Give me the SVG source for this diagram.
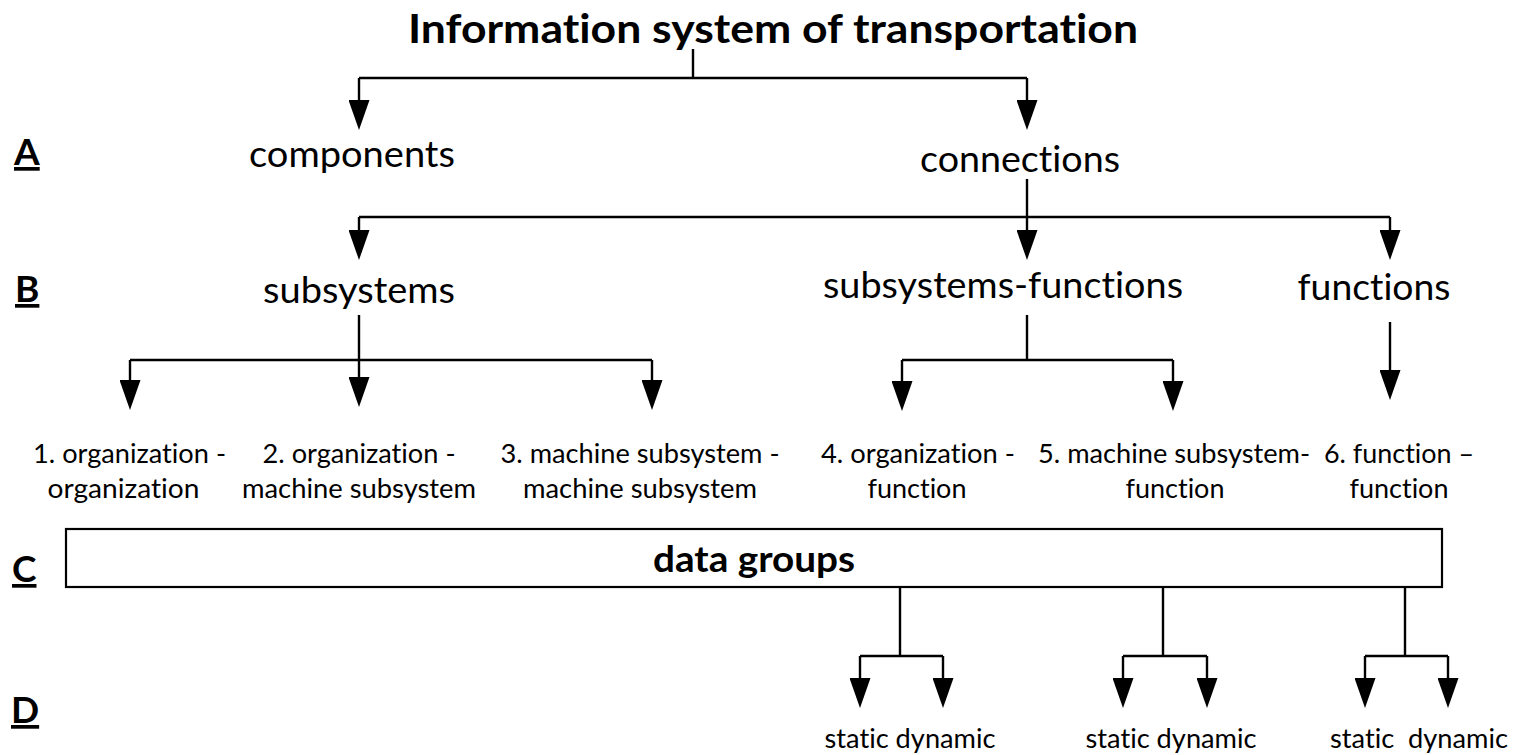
<svg xmlns="http://www.w3.org/2000/svg" width="1517" height="755" viewBox="0 0 1517 755">
<defs>
<marker id="ah" markerUnits="userSpaceOnUse" viewBox="0 0 30 21" markerWidth="30" markerHeight="21" refX="4" refY="10.5" orient="auto">
<path d="M0,0 L30,10.5 L0,21 Z" fill="#000"/>
</marker>
<style>
text{font-family:Lato,"Liberation Sans",Arial,sans-serif;fill:#000;white-space:pre;font-variant-ligatures:none;font-feature-settings:"liga" 0,"clig" 0,"dlig" 0}
.t{font-size:40px;font-weight:700;text-anchor:middle}
.m{font-size:36.5px;text-anchor:middle}
.s{font-size:26.5px;text-anchor:middle}
.r{font-size:37px;font-weight:700;text-decoration:underline}
.b{font-size:36.5px;font-weight:700;text-anchor:middle}
.c{fill:none;stroke:#000;stroke-width:2.4}
.a{fill:none;stroke:#000;stroke-width:2.4;marker-end:url(#ah)}
.box{fill:#fff;stroke:#000;stroke-width:2.2}
</style>
</defs>
<rect width="1517" height="755" fill="#fff"/>
<g id="connectors">
<path class="c" d="M693,49 V78 M359,78 H1027"/>
<path class="a" d="M359,78 V104"/>
<path class="a" d="M1027,78 V104"/>
<path class="c" d="M1027,179 V217 M359,217 H1390"/>
<path class="a" d="M359,217 V234"/>
<path class="a" d="M1027,217 V234"/>
<path class="a" d="M1390,217 V234"/>
<path class="c" d="M359,315 V360 M130,360 H652"/>
<path class="a" d="M130,360 V384"/>
<path class="a" d="M359,360 V381"/>
<path class="a" d="M652,360 V384"/>
<path class="c" d="M1027,315 V360 M902,360 H1173"/>
<path class="a" d="M902,360 V385"/>
<path class="a" d="M1173,360 V385"/>
<path class="a" d="M1390,322 V374"/>
<path class="c" d="M900,587 V656 M860,656 H943 M1163,587 V656 M1123,656 H1207 M1405,587 V656 M1365,656 H1448"/>
<path class="a" d="M860,656 V682"/>
<path class="a" d="M943,656 V682"/>
<path class="a" d="M1123,656 V682"/>
<path class="a" d="M1207,656 V682"/>
<path class="a" d="M1365,656 V682"/>
<path class="a" d="M1448,656 V682"/>
</g>
<g id="row-labels">
<text class="r" x="14" y="165">A</text>
<text class="r" x="15" y="302">B</text>
<text class="r" x="12" y="582">C</text>
<text class="r" x="11" y="723">D</text>
</g>
<g id="title"><text class="t" x="773" y="43" textLength="730" lengthAdjust="spacingAndGlyphs">Information system of transportation</text></g>
<g id="components"><text class="m" x="352" y="167" textLength="206" lengthAdjust="spacingAndGlyphs">components</text></g>
<g id="connections"><text class="m" x="1020" y="172" textLength="200" lengthAdjust="spacingAndGlyphs">connections</text></g>
<g id="subsystems"><text class="m" x="359" y="303" textLength="192" lengthAdjust="spacingAndGlyphs">subsystems</text></g>
<g id="subsystems-functions"><text class="m" x="1003" y="298" textLength="360" lengthAdjust="spacingAndGlyphs">subsystems-functions</text></g>
<g id="functions"><text class="m" x="1374" y="300" textLength="153" lengthAdjust="spacingAndGlyphs">functions</text></g>
<g id="n1">
<text class="s" x="129.5" y="463" textLength="193" lengthAdjust="spacingAndGlyphs">1. organization -</text>
<text class="s" x="123.5" y="498" textLength="152" lengthAdjust="spacingAndGlyphs">organization</text>
</g>
<g id="n2">
<text class="s" x="359" y="463" textLength="193" lengthAdjust="spacingAndGlyphs">2. organization -</text>
<text class="s" x="359" y="498" textLength="234" lengthAdjust="spacingAndGlyphs">machine subsystem</text>
</g>
<g id="n3">
<text class="s" x="640" y="463" textLength="279" lengthAdjust="spacingAndGlyphs">3. machine subsystem -</text>
<text class="s" x="640" y="498" textLength="234" lengthAdjust="spacingAndGlyphs">machine subsystem</text>
</g>
<g id="n4">
<text class="s" x="918" y="463" textLength="194" lengthAdjust="spacingAndGlyphs">4. organization -</text>
<text class="s" x="917" y="498" textLength="99" lengthAdjust="spacingAndGlyphs">function</text>
</g>
<g id="n5">
<text class="s" x="1174" y="463" textLength="272" lengthAdjust="spacingAndGlyphs">5. machine subsystem-</text>
<text class="s" x="1175" y="498" textLength="99" lengthAdjust="spacingAndGlyphs">function</text>
</g>
<g id="n6">
<text class="s" x="1399" y="463" textLength="150" lengthAdjust="spacingAndGlyphs">6. function –</text>
<text class="s" x="1399" y="498" textLength="99" lengthAdjust="spacingAndGlyphs">function</text>
</g>
<g id="data-groups">
<rect class="box" x="66" y="529" width="1376" height="58"/>
<text class="b" x="754" y="572" textLength="202" lengthAdjust="spacingAndGlyphs">data groups</text>
</g>
<g id="d1"><text class="s" x="910" y="748" textLength="171" lengthAdjust="spacingAndGlyphs">static dynamic</text></g>
<g id="d2"><text class="s" x="1171" y="748" textLength="171" lengthAdjust="spacingAndGlyphs">static dynamic</text></g>
<g id="d3"><text class="s" x="1419" y="748" textLength="178" lengthAdjust="spacingAndGlyphs">static  dynamic</text></g>
</svg>
